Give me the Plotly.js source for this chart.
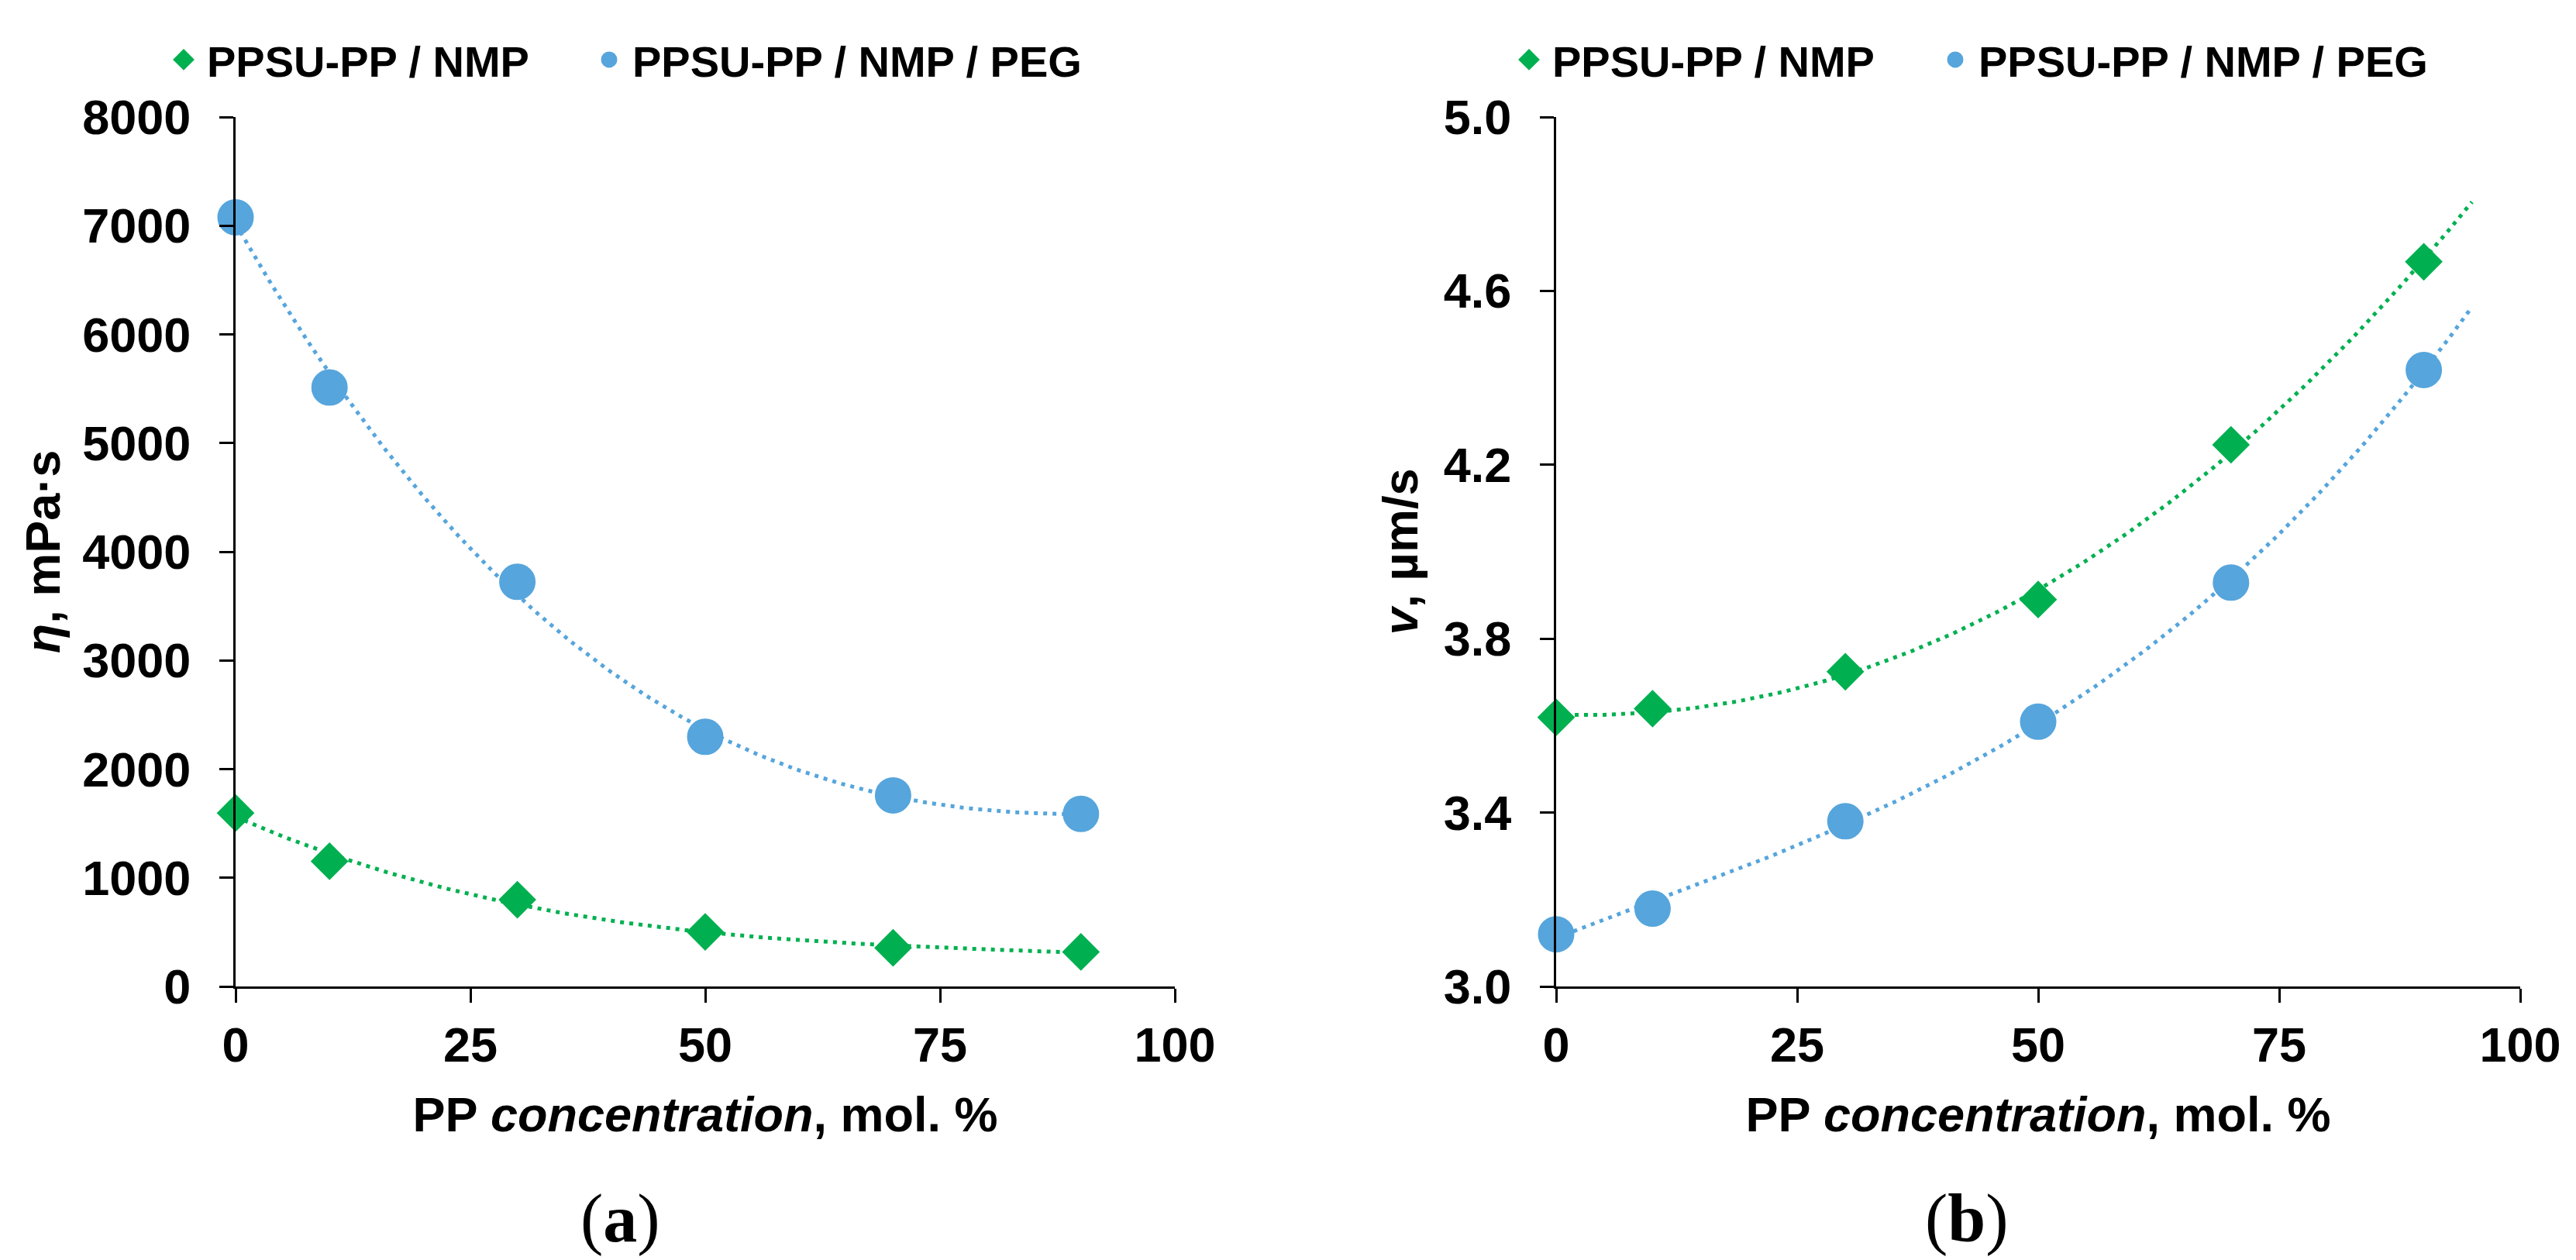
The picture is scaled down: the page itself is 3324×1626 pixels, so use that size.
<!DOCTYPE html>
<html>
<head>
<meta charset="utf-8">
<script src="https://cdn.plot.ly/plotly-3.0.1.min.js"></script>
<style>html,body{margin:0;padding:0;background:#fff;}#chart{width:3324px;height:1626px;}</style>
</head>
<body>
<div id="chart"></div>
<script>
// ---- data ----
const ppConcentration = [0, 10, 30, 50, 70, 90];
const seriesNames = ['PPSU-PP / NMP', 'PPSU-PP / NMP / PEG'];
// (a) viscosity, mPa·s
const viscosityNMP = [1596, 1152, 798, 502, 355, 318];
const viscosityPEG = [7077, 5511, 3723, 2297, 1758, 1588];
// (b) rate, µm/s
const rateNMP = [3.619, 3.639, 3.724, 3.890, 4.246, 4.667];
const ratePEG = [3.120, 3.179, 3.380, 3.609, 3.929, 4.418];
// trendline extents (x) per panel
const trendEndA = 90;
const trendEndB = 95;
const xTicks = [0, 25, 50, 75, 100];
const yTicksA = [0, 1000, 2000, 3000, 4000, 5000, 6000, 7000, 8000];
const yTicksB = [3.0, 3.4, 3.8, 4.2, 4.6, 5.0];

const GREEN = '#00B050';
const BLUE = '#56A5DC';

// least-squares polynomial trendline (as a spreadsheet trendline)
function polyFit(xs, ys, order) {
  const n = order + 1, s = 100;
  const A = Array.from({length: n}, () => new Array(n + 1).fill(0));
  xs.forEach((xv, k) => {
    const x = xv / s;
    for (let i = 0; i < n; i++) {
      for (let j = 0; j < n; j++) A[i][j] += Math.pow(x, i + j);
      A[i][n] += ys[k] * Math.pow(x, i);
    }
  });
  for (let c = 0; c < n; c++) {
    let p = c;
    for (let r = c + 1; r < n; r++) if (Math.abs(A[r][c]) > Math.abs(A[p][c])) p = r;
    [A[c], A[p]] = [A[p], A[c]];
    for (let r = 0; r < n; r++) {
      if (r === c) continue;
      const f = A[r][c] / A[c][c];
      for (let k = c; k <= n; k++) A[r][k] -= f * A[c][k];
    }
  }
  const coef = A.map((row, i) => row[n] / A[i][i]);
  return x => coef.reduce((acc, c, i) => acc + c * Math.pow(x / s, i), 0);
}
function trend(xs, ys, xEnd, order) {
  const f = polyFit(xs, ys, order);
  const tx = [], ty = [];
  for (let x = xs[0]; x <= xEnd + 1e-9; x += 0.5) { tx.push(x); ty.push(f(x)); }
  return {tx, ty};
}

const dotLine = (c) => ({color: c, width: 5, dash: '5px,7px'});
const diamondMarker = {symbol: 'diamond', size: 32, color: GREEN, line: {color: GREEN, width: 5}};
const circleMarker = {symbol: 'circle', size: 42, color: BLUE, line: {color: BLUE, width: 5}};
const tA1 = trend(ppConcentration, viscosityNMP, trendEndA, 3);
const tA2 = trend(ppConcentration, viscosityPEG, trendEndA, 3);
const tB1 = trend(ppConcentration, rateNMP, trendEndB, 3);
const tB2 = trend(ppConcentration, ratePEG, trendEndB, 3);

const traces = [
  {x: tA1.tx, y: tA1.ty, mode: 'lines', line: dotLine(GREEN), xaxis: 'x', yaxis: 'y', showlegend: false, hoverinfo: 'skip'},
  {x: tA2.tx, y: tA2.ty, mode: 'lines', line: dotLine(BLUE), xaxis: 'x', yaxis: 'y', showlegend: false, hoverinfo: 'skip'},
  {x: ppConcentration, y: viscosityNMP, name: seriesNames[0], mode: 'markers', cliponaxis: false,
   marker: diamondMarker, xaxis: 'x', yaxis: 'y', legend: 'legend'},
  {x: ppConcentration, y: viscosityPEG, name: seriesNames[1], mode: 'markers', cliponaxis: false,
   marker: circleMarker, xaxis: 'x', yaxis: 'y', legend: 'legend3'},
  {x: tB1.tx, y: tB1.ty, mode: 'lines', line: dotLine(GREEN), xaxis: 'x2', yaxis: 'y2', showlegend: false, hoverinfo: 'skip'},
  {x: tB2.tx, y: tB2.ty, mode: 'lines', line: dotLine(BLUE), xaxis: 'x2', yaxis: 'y2', showlegend: false, hoverinfo: 'skip'},
  {x: ppConcentration, y: rateNMP, name: seriesNames[0], mode: 'markers', cliponaxis: false,
   marker: diamondMarker, xaxis: 'x2', yaxis: 'y2', legend: 'legend2'},
  {x: ppConcentration, y: ratePEG, name: seriesNames[1], mode: 'markers', cliponaxis: false,
   marker: circleMarker, xaxis: 'x2', yaxis: 'y2', legend: 'legend4'}
];

const SANS = 'Liberation Sans, Arial, sans-serif';
const tickFont = {family: SANS, size: 63, color: '#000', weight: 'bold'};
const titleFont = {family: SANS, size: 63, color: '#000', weight: 'bold'};
const axisCommon = {
  showgrid: false, zeroline: false, showline: true, linecolor: '#000', linewidth: 3,
  ticks: 'outside', ticklen: 18, tickwidth: 3, tickcolor: '#000', tickfont: tickFont,
  automargin: false, fixedrange: true
};
const yDomain = [1 - 1273 / 1626, 1 - 151 / 1626];

const legendCommon = {
  orientation: 'h', yanchor: 'middle', xanchor: 'left',
  font: {family: SANS, size: 56, color: '#000', weight: 'bold'},
  bgcolor: 'rgba(0,0,0,0)', itemwidth: 50, y: 1 - 77 / 1626
};

const layout = {
  width: 3324, height: 1626,
  paper_bgcolor: '#fff', plot_bgcolor: '#fff',
  margin: {l: 0, r: 0, t: 0, b: 0},
  showlegend: true,
  xaxis: Object.assign({}, axisCommon, {domain: [304 / 3324, 1516 / 3324], range: [0, 100], tickvals: xTicks,
    anchor: 'y', ticklabelstandoff: 0,
    title: {text: 'PP <i>concentration</i>, mol. %', font: titleFont, standoff: 35}}),
  yaxis: Object.assign({}, axisCommon, {domain: yDomain, range: [0, 8000], tickvals: yTicksA,
    anchor: 'x', ticklabelstandoff: 24,
    title: {text: '<i>η</i>, mPa·s', font: titleFont, standoff: 9}}),
  xaxis2: Object.assign({}, axisCommon, {domain: [2008 / 3324, 3252 / 3324], range: [0, 100], tickvals: xTicks,
    anchor: 'y2', ticklabelstandoff: 0,
    title: {text: 'PP <i>concentration</i>, mol. %', font: titleFont, standoff: 35}}),
  yaxis2: Object.assign({}, axisCommon, {domain: yDomain, range: [3.0, 5.0], tickvals: yTicksB,
    tickformat: '.1f', anchor: 'x2', ticklabelstandoff: 24,
    title: {text: '<i>v</i>, µm/s', font: titleFont, standoff: 13}}),
  legend: Object.assign({}, legendCommon, {x: 207 / 3324}),
  legend3: Object.assign({}, legendCommon, {x: 756 / 3324}),
  legend2: Object.assign({}, legendCommon, {x: 1943 / 3324}),
  legend4: Object.assign({}, legendCommon, {x: 2493 / 3324}),
  annotations: [
    {text: '(<b>a</b>)', xref: 'paper', yref: 'paper', x: 800 / 3324, y: 1 - 1572 / 1626,
     xanchor: 'center', yanchor: 'middle', showarrow: false,
     font: {family: 'Liberation Serif, Times New Roman, serif', size: 88, color: '#000'}},
    {text: '(<b>b</b>)', xref: 'paper', yref: 'paper', x: 2538 / 3324, y: 1 - 1572 / 1626,
     xanchor: 'center', yanchor: 'middle', showarrow: false,
     font: {family: 'Liberation Serif, Times New Roman, serif', size: 88, color: '#000'}}
  ]
};

Plotly.newPlot('chart', traces, layout, {staticPlot: true, displayModeBar: false});
</script>
</body>
</html>
